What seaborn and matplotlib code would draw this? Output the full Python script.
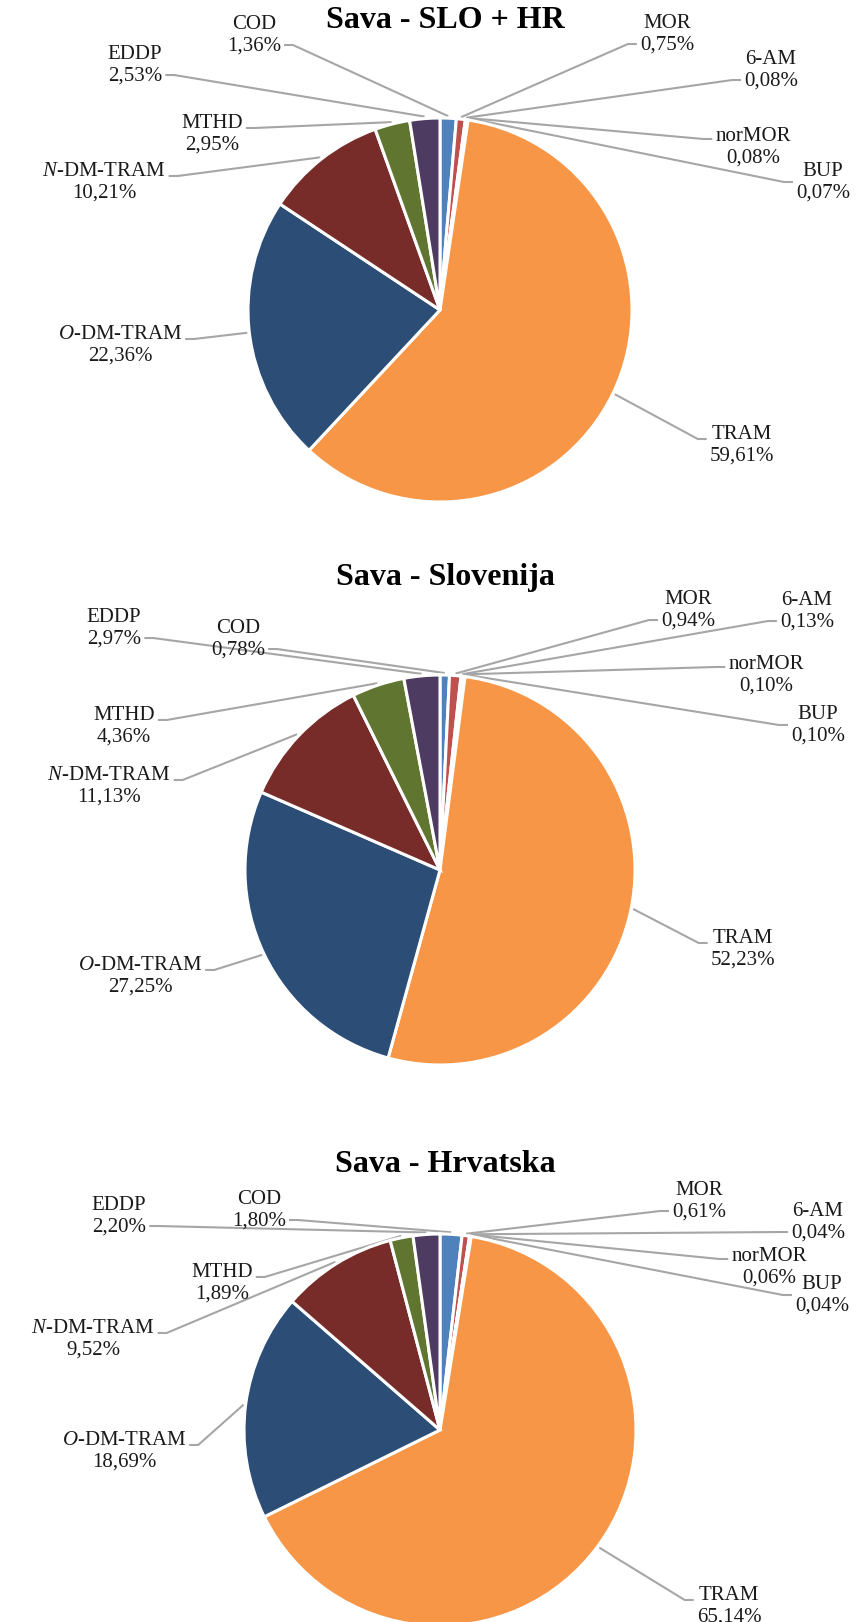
import matplotlib
matplotlib.use("Agg")
import numpy as np
import matplotlib.pyplot as plt
import seaborn as sns

# Share of each compound in the total load (%), listed clockwise from 12 o'clock
compounds = ["COD", "MOR", "6-AM", "norMOR", "BUP", "TRAM",
             r"$\mathit{O}$-DM-TRAM", r"$\mathit{N}$-DM-TRAM", "MTHD", "EDDP"]
share_slo_hr = [1.36, 0.75, 0.08, 0.08, 0.07, 59.61, 22.36, 10.21, 2.95, 2.53]
share_slo = [0.78, 0.94, 0.13, 0.10, 0.10, 52.23, 27.25, 11.13, 4.36, 2.97]
share_hr = [1.80, 0.61, 0.04, 0.06, 0.04, 65.14, 18.69, 9.52, 1.89, 2.20]
titles = ["Sava - SLO + HR", "Sava - Slovenija", "Sava - Hrvatska"]

colors = ["#4F81BD", "#C0504D", "#9BBB59", "#8064A2", "#4BACC6",
          "#F79646", "#2C4D75", "#772C2A", "#5F7530", "#4D3B62"]

sns.set_theme(style="white")
plt.rcParams["font.family"] = ["Liberation Serif", "DejaVu Serif"]
plt.rcParams["mathtext.fontset"] = "custom"
plt.rcParams["mathtext.rm"] = "Liberation Serif"
plt.rcParams["mathtext.it"] = "Liberation Serif:italic"

W, H = 860, 1622

# layout in pixel units (y measured from the top)
layouts = [
    dict(center=(440, 310), radius=192, title_y=21,
         labels=[(254, 35), (667, 34), (771, 70), (753, 147), (823, 182),
                 (742, 445), (120, 345), (104, 182), (212, 134), (135, 65)]),
    dict(center=(440, 870), radius=195, title_y=577,
         labels=[(238, 639), (688, 610), (807, 611), (766, 675), (818, 725),
                 (743, 949), (140, 976), (109, 786), (124, 726), (114, 628)]),
    dict(center=(440, 1430), radius=196, title_y=1165,
         labels=[(259, 1210), (699, 1201), (818, 1222), (769, 1267), (822, 1295),
                 (729, 1606), (124, 1451), (93, 1339), (222, 1283), (119, 1216)]),
]
# where the leader meets the label: 0 = first text line, 1 = second line
attach = [1, 1, 1, 0.1, 0.5, 0.2, 0.2, 0.2, 0.2, 1]

fig = plt.figure(figsize=(W / 100, H / 100), dpi=100)
ax = fig.add_axes([0, 0, 1, 1])

texts = []
for values, title, lay in zip([share_slo_hr, share_slo, share_hr], titles, layouts):
    cx, cy = lay["center"]
    r = lay["radius"]
    wedges, _ = ax.pie(values, colors=colors, startangle=90, counterclock=False,
                       center=(cx, H - cy), radius=r, frame=True,
                       wedgeprops=dict(edgecolor="white", linewidth=2.2))
    ax.text(W / 2 + 15, H - lay["title_y"], title, ha="center", va="center",
            fontsize=23, fontweight="bold", color="black")
    for w, name, v, (lx, ly), a in zip(wedges, compounds, values, lay["labels"], attach):
        pct = f"{v:.2f}%".replace(".", ",")
        t = ax.text(lx, H - ly, f"{name}\n{pct}", ha="center", va="center",
                    fontsize=15, color="#1a1a1a", linespacing=1.15)
        texts.append((t, w, (cx, H - cy), r, a))

ax.set_xlim(0, W)
ax.set_ylim(0, H)
ax.set_aspect("equal")
ax.axis("off")

fig.canvas.draw()
renderer = fig.canvas.get_renderer()
inv = ax.transData.inverted()
for t, w, (cx, cy), r, a in texts:
    bb = t.get_window_extent(renderer).transformed(inv)
    lh = (bb.y1 - bb.y0) / 2
    ya = bb.y1 - lh / 2 - a * lh
    mid = np.deg2rad((w.theta1 + w.theta2) / 2)
    ex, ey = cx + (r + 2) * np.cos(mid), cy + (r + 2) * np.sin(mid)
    if bb.x0 > cx:
        xa = bb.x0 - 3
        xe = xa - 9
    else:
        xa = bb.x1 + 3
        xe = xa + 9
    ax.plot([ex, xe, xa], [ey, ya, ya], color="#A6A6A6", lw=1.5,
            solid_capstyle="butt", zorder=0)

fig.savefig("out.png", dpi=100, facecolor="white")
